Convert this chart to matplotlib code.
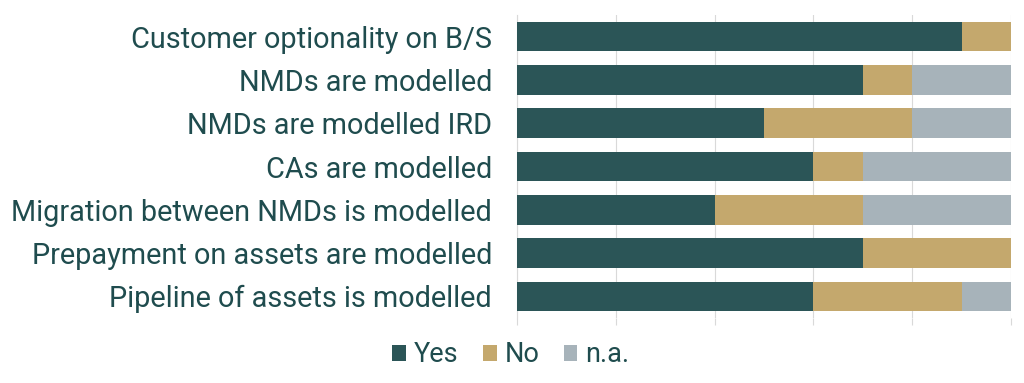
import matplotlib
matplotlib.use("Agg")
import matplotlib.pyplot as plt

categories = ["Customer optionality on B/S", "NMDs are modelled", "NMDs are modelled IRD",
              "CAs are modelled", "Migration between NMDs is modelled",
              "Prepayment on assets are modelled", "Pipeline of assets is modelled"]
yes = [0.9, 0.7, 0.5, 0.6, 0.4, 0.7, 0.6]
no = [0.1, 0.1, 0.3, 0.1, 0.3, 0.3, 0.3]
na = [0.0, 0.2, 0.2, 0.3, 0.3, 0.0, 0.1]

text_col = "#1F4C4E"
plt.rcParams['font.family'] = ['Roboto', 'DejaVu Sans']

fig = plt.figure(figsize=(10.24, 3.83), dpi=100)
ax = fig.add_axes([517 / 1024, 1 - 318 / 383, 494 / 1024, 303 / 383])

pos = list(range(len(categories)))
left2 = [a + b for a, b in zip(yes, no)]
ax.barh(pos, yes, height=0.68, color="#2B5557", label="Yes", zorder=3)
ax.barh(pos, no, left=yes, height=0.68, color="#C4A86D", label="No", zorder=3)
ax.barh(pos, na, left=left2, height=0.68, color="#A7B3BA", label="n.a.", zorder=3)

ax.set_xlim(0, 1)
ax.set_ylim(len(categories) - 0.5, -0.5)
ax.set_yticks(pos)
ax.set_yticklabels(categories, fontsize=20.8, color=text_col)
ax.set_xticks([0, 0.2, 0.4, 0.6, 0.8, 1.0])
ax.set_xticklabels([])
ax.grid(axis="x", color="#D9D9D9", linewidth=0.8, zorder=0)
ax.tick_params(axis="x", length=5, color="#D9D9D9", width=0.8)
ax.tick_params(axis="y", length=0, pad=18)
for s in ["top", "right", "bottom"]:
    ax.spines[s].set_visible(False)
ax.spines["left"].set_color("#D9D9D9")

fig.legend(loc="center", bbox_to_anchor=(511 / 1024, 1 - 355 / 383), ncol=3, frameon=False,
           fontsize=19.5, handlelength=0.5, handleheight=0.5, handletextpad=0.3,
           columnspacing=0.9, labelcolor=text_col)

fig.savefig("out.png", dpi=100)
